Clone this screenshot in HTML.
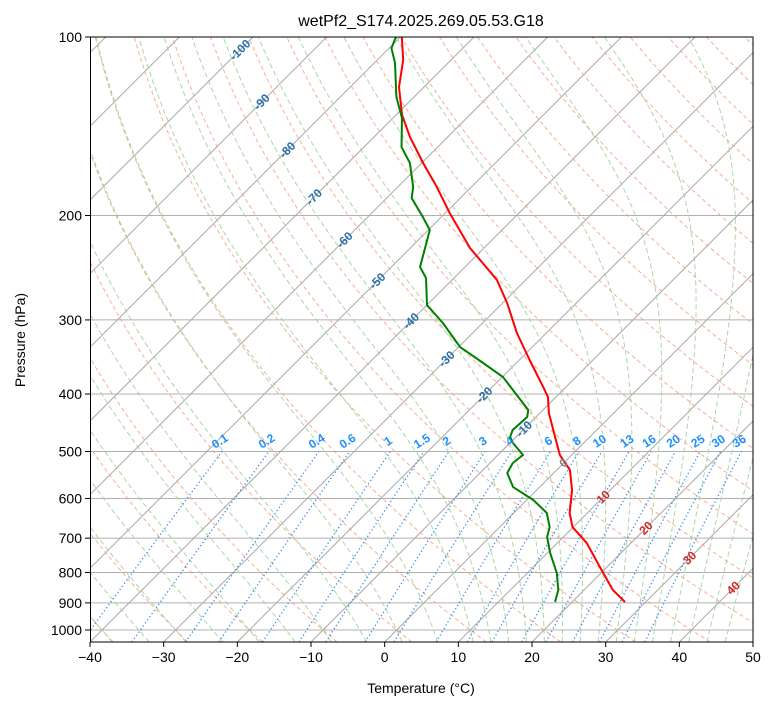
<!DOCTYPE html>
<html><head><meta charset="utf-8">
<style>
html,body{margin:0;padding:0;background:#fff;overflow:hidden;width:775px;height:708px;}
svg{display:block;font-family:"Liberation Sans","DejaVu Sans",sans-serif;}
</style></head>
<body>
<svg id="chart" width="775" height="708" viewBox="0 0 775 708" xmlns="http://www.w3.org/2000/svg">
<defs><clipPath id="plotclip"><rect x="90" y="37" width="663" height="605"/></clipPath></defs>
<rect x="0" y="0" width="775" height="708" fill="#fff"/>
<text x="421" y="26" text-anchor="middle" font-size="16" fill="#000">wetPf2_S174.2025.269.05.53.G18</text>
<g id="plot" clip-path="url(#plotclip)"></g>
<g id="labels"></g>
<rect x="90.5" y="37" width="662.5" height="605" fill="none" stroke="#000" stroke-width="1"/>
<g id="axes"></g>
<text x="421" y="693" text-anchor="middle" font-size="14" fill="#000">Temperature (°C)</text>
<text x="25" y="340" text-anchor="middle" font-size="14" fill="#000" transform="rotate(-90 25 340)">Pressure (hPa)</text>
</svg>
<script>
// ---- data ----
const tempP = [100,109.3,121.4,135.3,147.5,163.1,179,198.1,226.9,237.7,256.9,280.9,315.6,350.5,389.2,404.6,430.5,472.6,506.9,537.3,580.6,634.9,670.6,713.5,801.5,855.9,897];
const tempT = [-79.8,-76.5,-73.4,-69.2,-65.1,-59.8,-54.7,-49.4,-41.9,-38.9,-33.9,-29.4,-24.0,-18.6,-13.1,-11.1,-8.8,-4.7,-1.6,1.8,4.8,7.6,9.9,14.0,20.3,23.9,27.2];
const dewP = [100,104.4,110.6,126.2,136.9,153.3,163.1,179,186.9,201.2,211.6,226.9,244.3,254.9,283.1,303.6,333.3,354.6,374.5,401.5,425.6,437.3,460,472.6,483.8,506.9,522.9,543.6,574,603.6,634.9,670.6,697,741.8,801.5,855.9,897];
const dewT = [-80.6,-79.7,-77.2,-72.4,-68.8,-64.9,-61.6,-57.9,-56.6,-52.5,-49.8,-48.0,-46.1,-43.8,-40.0,-35.4,-29.8,-24.5,-19.9,-15.6,-12.0,-11.2,-11.4,-10.8,-9.6,-6.6,-6.9,-6.3,-3.6,0.9,4.5,6.8,7.8,10.4,14.0,16.5,17.7];
const xTicks = [-40,-30,-20,-10,0,10,20,30,40,50];
const yTicks = [100,200,300,400,500,600,700,800,900,1000];
const isoLabels = [-100,-90,-80,-70,-60,-50,-40,-30,-20,-10,0,10,20,30,40];
const mixRatios = [0.1,0.2,0.4,0.6,1,1.5,2,3,4,6,8,10,13,16,20,25,30,36];
const mixLabels = ["0.1","0.2","0.4","0.6","1","1.5","2","3","4","6","8","10","13","16","20","25","30","36"];
const dryT0 = [-40,-30,-20,-10,0,10,20,30,40,50,60,70,80,90,100,110,120,130,140,150,160,170,180,190];
const moistT0 = [-50,-45,-40,-35,-30,-25,-20,-15,-10,-5,0,5,10,12.5,15,17.5,20,22.5,25,27.5,30,32.5,35,37.5,40,42.5,45];
// label placement (layout, pixel rows for isotherm labels)
const isoLabelRows = [50,102,150,197,240,281,321,359,395,429,463,497,528,558,588];

// ---- axis functions ----
const L=90, R=753, T0=37, B=642;
const PMAX = Math.pow(10, 2 + (B - T0)/593);
function Y(p){ return T0 + 593*(Math.log10(p)-2); }
function X(t,p){ return L + (t+40)*(R-L)/90 + (B - Y(p)); }
const NS="http://www.w3.org/2000/svg";
const plot=document.getElementById('plot'), labels=document.getElementById('labels'), axes=document.getElementById('axes');
function mk(tag, attrs, parent){ const e=document.createElementNS(NS,tag); for(const k in attrs) e.setAttribute(k,attrs[k]); parent.appendChild(e); return e; }
function pathFrom(ps, ts){ let d=''; for(let i=0;i<ps.length;i++){ d+=(i?'L':'M')+X(ts[i],ps[i]).toFixed(2)+','+Y(ps[i]).toFixed(2); } return d; }

yTicks.forEach(p=>{
  const l=mk('line',{x1:L,x2:R,y1:Y(p),y2:Y(p),stroke:'#b0b0b0','stroke-width':1},plot);
  
  
});
for(let t=-160;t<=50;t+=10){
  const l=mk('line',{x1:X(t,PMAX),y1:B,x2:X(t,100),y2:T0,stroke:'#a8a8a8','stroke-width':1},plot);
  
  
}
const pGrid=[]; for(let p=PMAX;p>=100;p-=10) pGrid.push(p); pGrid.push(100);
dryT0.forEach(t0=>{
  const ts=pGrid.map(p=>(t0+273.15)*Math.pow(p/1000,0.2857)-273.15);
  const e=mk('path',{d:pathFrom(pGrid,ts),fill:'none',stroke:'#f5a083','stroke-width':1,'stroke-dasharray':'4,3','stroke-opacity':0.85},plot);
  
  
});
function dTdp(p,T){
  const es=6.112*Math.exp(17.67*(T-273.15)/(T-29.65));
  const rs=0.622*es/(p-es);
  const Rd=287.04,Cp=1005.7,Lv=2.501e6;
  return (Rd*T+Lv*rs)/(Cp+Lv*Lv*rs*0.622/(Rd*T*T))/p;
}
function integ(T,p0,p1,h){
  const out=[[p0,T]]; let p=p0;
  const n=Math.ceil(Math.abs(p1-p0)/Math.abs(h)); const dh=(p1-p0)/n;
  for(let i=0;i<n;i++){
    const k1=dTdp(p,T),k2=dTdp(p+dh/2,T+dh/2*k1),k3=dTdp(p+dh/2,T+dh/2*k2),k4=dTdp(p+dh,T+dh*k3);
    T+=dh/6*(k1+2*k2+2*k3+k4); p+=dh; out.push([p,T]);
  }
  return out;
}
moistT0.forEach(t0=>{
  const up=integ(t0+273.15,1000,100,5), dn=integ(t0+273.15,1000,PMAX,5);
  const pts=dn.reverse().concat(up.slice(1));
  const e=mk('path',{d:pathFrom(pts.map(a=>a[0]),pts.map(a=>a[1]-273.15)),fill:'none',stroke:'#a3d29d','stroke-width':1,'stroke-dasharray':'5,3','stroke-opacity':0.9},plot);
  
  
});
function tdFromW(w,p){ const e=w*p/(0.622+w); const g=Math.log(e/6.112); return 243.5*g/(17.67-g); }
const pMix=[]; for(let p=PMAX;p>=500;p-=10) pMix.push(p); pMix.push(500);
mixRatios.forEach((w,i)=>{
  const ts=pMix.map(p=>tdFromW(w/1000,p));
  const e=mk('path',{d:pathFrom(pMix,ts),fill:'none',stroke:'#3a8ee6','stroke-width':1.3,'stroke-dasharray':'1.3,2.5'},plot);
  
  
  const x=X(tdFromW(w/1000,500),500), y=Y(500)-7;
  const tx=mk('text',{x:x,y:y,'text-anchor':'middle','font-size':12,'font-weight':'bold',fill:'#1e90ff',transform:'rotate(-33 '+x+' '+y+')'},labels);
  tx.textContent=mixLabels[i];
  
  
});
const tl=mk('path',{d:pathFrom(tempP,tempT),fill:'none',stroke:'#ff0000','stroke-width':2,'stroke-linejoin':'round'},plot);


const dl=mk('path',{d:pathFrom(dewP,dewT),fill:'none',stroke:'#008000','stroke-width':2,'stroke-linejoin':'round'},plot);


isoLabels.forEach((t,i)=>{
  const y = isoLabelRows[i];
  const p = Math.pow(10, 2+(y-T0)/593);
  const x = X(t,p);
  const col = t<0 ? '#2a6fa8' : (t===0 ? '#808080' : '#d62728');
  const tx=mk('text',{x:x,y:y+4,'text-anchor':'middle','font-size':12,'font-weight':'bold',fill:col,transform:'rotate(-45 '+x+' '+y+')'},labels);
  tx.textContent=String(t);
  
  
});
xTicks.forEach(t=>{
  const x=L+(t+40)*(R-L)/90;
  const l=mk('line',{x1:x,x2:x,y1:B,y2:B+5,stroke:'#000','stroke-width':1},axes);
  
  
  const tx=mk('text',{x:x,y:B+20,'text-anchor':'middle','font-size':14,fill:'#000'},axes);
  tx.textContent=(t<0?'\u2212'+(-t):String(t));
  
  
});
yTicks.forEach(p=>{
  const y=Y(p);
  const l=mk('line',{x1:L-5,x2:L,y1:y,y2:y,stroke:'#000','stroke-width':1},axes);
  
  
  const tx=mk('text',{x:L-8,y:y+5,'text-anchor':'end','font-size':14,fill:'#000'},axes);
  tx.textContent=String(p);
  
  
});
</script>
</body></html>
